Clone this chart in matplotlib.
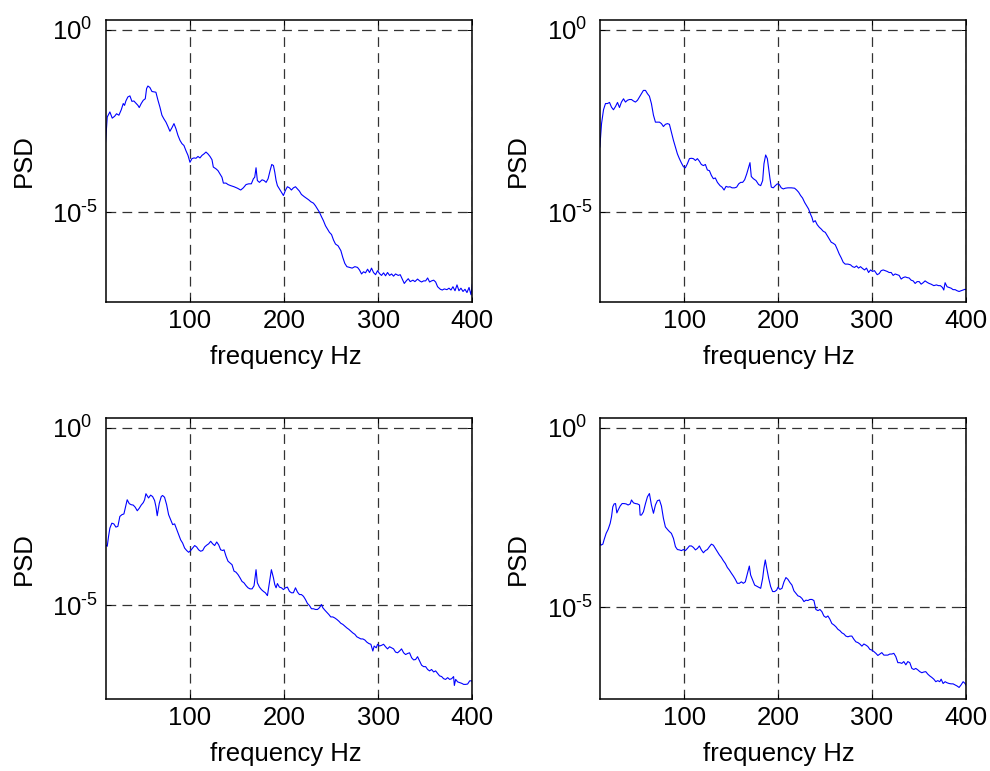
import numpy as np
import matplotlib
matplotlib.use('Agg')
import matplotlib.pyplot as plt
from matplotlib.ticker import FixedLocator, NullLocator, FixedFormatter

plt.rcParams['font.family'] = ['Liberation Sans', 'DejaVu Sans']
plt.rcParams['mathtext.fontset'] = 'custom'
plt.rcParams['mathtext.rm'] = 'Liberation Sans'
plt.rcParams['mathtext.it'] = 'Liberation Sans:italic'
plt.rcParams['lines.scale_dashes'] = False

# ---- data (frequency in Hz, PSD as log10) ----
freq_a = [10.3, 12.1, 14.9, 17.4, 19.9, 22.0, 24.5, 27.0, 29.1, 30.5, 31.9, 34.0, 36.2, 38.3, 40.4,
          42.6, 44.7, 46.1, 48.2, 50.4, 52.5, 53.9, 55.3, 57.4, 59.6, 61.7, 63.8, 66.0, 68.1, 70.2,
          72.3, 74.5, 76.6, 78.7, 80.9, 83.0, 85.1, 87.2, 89.4, 91.5, 93.6, 95.7, 97.9, 100.0,
          102.1, 104.3, 106.4, 108.5, 110.6, 112.8, 114.9, 117.0, 119.1, 121.3, 123.4, 124.8, 127.7,
          129.8, 131.9, 134.0, 135.5, 138.3, 140.4, 143.3, 146.8, 150.4, 153.9, 156.7, 159.6, 162.4,
          165.2, 167.4, 168.8, 170.2, 171.6, 173.8, 176.6, 178.7, 180.9, 183.0, 185.1, 186.9, 188.7,
          190.1, 191.5, 192.9, 195.0, 197.2, 199.3,
          201.4, 203.5, 205.7, 207.8, 209.9, 212.1, 214.2, 216.3, 218.4, 221.3, 224.1, 226.2, 228.4,
          231.2, 233.3, 235.5, 237.6, 239.7, 241.8, 244.0, 246.1, 248.2, 250.4, 252.5, 254.6, 257.4,
          260.3, 262.4, 264.5, 266.7, 269.5, 272.3, 275.2, 278.0, 280.1, 282.3, 284.4, 286.5, 288.7,
          290.8, 292.9, 295.0, 297.2, 299.3,
          301.4, 303.5, 305.7, 307.8, 309.9, 312.1, 314.2, 316.3, 318.4, 321.3, 323.4, 325.5, 327.7,
          329.8, 331.9, 334.0, 336.9, 339.0, 341.8, 344.0, 346.1, 348.2, 350.4, 352.5, 354.6, 356.7,
          358.9, 361.0, 363.1, 366.0, 368.1, 370.2, 373.0, 375.2, 377.3, 379.4, 381.6, 383.7, 385.8,
          387.9, 390.1, 392.2, 394.3, 396.5, 398.6, 400.0]
psd_a = [-3.08, -2.39, -2.25, -2.42, -2.37, -2.30, -2.34, -2.19, -2.02, -2.07, -1.95, -1.84, -1.81, -1.96,
         -1.95, -2.01, -2.07, -2.13, -2.02, -1.93, -1.89, -1.61, -1.54, -1.58, -1.69, -1.70, -1.71, -1.93,
         -2.12, -2.34, -2.44, -2.53, -2.65, -2.78, -2.68, -2.57, -2.71, -2.89, -3.03, -3.12, -3.17, -3.31,
         -3.44, -3.63,
         -3.53, -3.51, -3.52, -3.47, -3.51, -3.44, -3.40, -3.35, -3.40, -3.47, -3.56, -3.76, -3.81, -3.86,
         -3.95, -4.04, -4.20, -4.20, -4.24, -4.27, -4.30, -4.34, -4.39, -4.33, -4.24, -4.22, -4.22, -4.08,
         -4.04, -3.78, -4.13, -4.18, -4.11, -4.13, -4.18, -4.08, -3.86, -3.69, -3.72, -3.90, -4.13, -4.27,
         -4.36, -4.45, -4.54,
         -4.40, -4.30, -4.33, -4.39, -4.33, -4.30, -4.36, -4.42, -4.51, -4.57, -4.62, -4.66, -4.71, -4.75,
         -4.82, -4.91, -5.00, -5.12, -5.23, -5.37, -5.46, -5.55, -5.61, -5.76, -5.87, -5.92, -6.05, -6.24,
         -6.40, -6.49, -6.51, -6.53, -6.49, -6.51, -6.58, -6.69, -6.63, -6.66, -6.56, -6.65, -6.53, -6.65,
         -6.71, -6.60,
         -6.68, -6.73, -6.66, -6.74, -6.65, -6.73, -6.69, -6.75, -6.69, -6.73, -6.71, -6.83, -6.95, -6.88,
         -6.82, -6.90, -6.86, -6.90, -6.83, -6.88, -6.91, -6.88, -6.88, -6.80, -6.91, -6.88, -6.86, -6.91,
         -7.04, -7.11, -7.13, -7.10, -7.12, -7.08, -7.13, -7.04, -7.15, -6.99, -7.15, -7.08, -7.17, -7.11,
         -7.20, -7.06, -7.26, -6.97]

freq_b = [10.3, 12.1, 14.2, 16.3, 18.4, 20.6, 22.7, 24.8, 27.0, 29.1, 31.2, 33.3, 35.5, 37.6, 39.7,
          41.8, 44.0, 46.1, 48.2, 50.4, 52.5, 54.6, 56.7, 58.9, 61.0, 63.1, 65.2, 67.4, 69.5, 71.6,
          73.8, 75.9, 78.0, 80.1, 82.3, 84.4, 86.5, 88.7, 90.8, 92.9, 95.0, 97.2, 99.3,
          101.4, 103.5, 105.7, 107.8, 109.9, 112.1, 114.2, 116.3, 118.4, 120.6, 122.7, 124.8, 127.0,
          129.1, 131.2, 133.3, 135.5, 138.3, 140.4, 142.6, 144.7, 146.8, 148.9, 151.1, 153.9, 156.0,
          158.2, 160.3, 162.4, 164.5, 166.7, 168.8, 170.2, 171.6, 173.8, 176.6, 179.4, 181.6, 183.7,
          185.1, 186.9, 188.7, 190.1, 191.5, 192.9, 195.0, 197.2, 199.3,
          201.4, 203.5, 205.7, 207.8, 210.6, 214.2, 217.7, 219.9, 222.0, 224.1, 226.2, 228.4, 230.5,
          232.6, 234.8, 236.2, 237.6, 239.7, 241.8, 244.0, 246.1, 248.2, 250.4, 252.5, 254.6, 256.7,
          258.9, 261.0, 263.1, 265.2, 267.4, 269.5, 271.6, 274.5, 277.3, 279.4, 281.6, 283.7, 285.8,
          287.9, 290.1, 292.2, 294.3, 296.5, 298.6,
          300.7, 302.8, 305.7, 307.8, 309.9, 312.1, 314.2, 316.3, 318.4, 320.6, 322.7, 324.8, 327.0,
          329.1, 331.2, 333.3, 335.5, 337.6, 339.7, 341.8, 344.0, 346.1, 348.2, 350.4, 352.5, 354.6,
          356.7, 358.9, 361.0, 363.1, 366.0, 368.8, 370.9, 373.0, 375.2, 376.6, 378.0, 380.1, 382.3,
          384.4, 386.5, 388.7, 390.8, 392.9, 395.0, 397.2, 399.3, 400.0]
psd_b = [-3.21, -2.57, -2.19, -2.02, -2.02, -1.99, -2.12, -2.19, -2.10, -1.99, -2.13, -1.98, -1.89, -1.98,
         -1.93, -1.91, -1.91, -1.95, -1.98, -1.93, -1.84, -1.75, -1.66, -1.66, -1.75, -1.82, -2.02, -2.34,
         -2.53, -2.53, -2.53, -2.57, -2.65, -2.59, -2.57, -2.59, -2.80, -3.03, -3.21, -3.40, -3.53, -3.65,
         -3.75,
         -3.78, -3.67, -3.53, -3.52, -3.53, -3.58, -3.53, -3.60, -3.69, -3.72, -3.69, -3.84, -3.86, -3.99,
         -4.08, -4.06, -4.18, -4.27, -4.31, -4.39, -4.29, -4.31, -4.30, -4.33, -4.33, -4.31, -4.22, -4.18,
         -4.18, -4.11, -3.95, -3.76, -3.64, -4.02, -4.08, -4.13, -4.24, -4.27, -4.13, -3.67, -3.43, -3.53,
         -3.81, -4.08, -4.31, -4.33, -4.27, -4.22,
         -4.24, -4.33, -4.36, -4.34, -4.33, -4.33, -4.34, -4.39, -4.45, -4.54, -4.61, -4.73, -4.82, -4.91,
         -5.06, -5.14, -5.27, -5.23, -5.34, -5.41, -5.46, -5.52, -5.55, -5.64, -5.73, -5.82, -5.85, -5.89,
         -6.01, -6.14, -6.25, -6.37, -6.42, -6.42, -6.44, -6.49, -6.51, -6.47, -6.53, -6.49, -6.54, -6.58,
         -6.53, -6.65, -6.58,
         -6.62, -6.60, -6.71, -6.68, -6.60, -6.58, -6.60, -6.62, -6.65, -6.65, -6.73, -6.69, -6.71, -6.73,
         -6.83, -6.79, -6.77, -6.79, -6.80, -6.86, -6.88, -6.95, -6.90, -6.90, -6.97, -6.93, -6.88, -6.92,
         -6.95, -6.97, -7.01, -6.99, -7.01, -7.01, -7.06, -7.13, -6.93, -7.04, -7.06, -7.08, -7.12, -7.12,
         -7.15, -7.17, -7.15, -7.13, -7.11, -7.12]

freq_c = [10.3, 12.1, 13.5, 14.9, 17.0, 19.1, 21.3, 23.4, 25.5, 27.7, 29.8, 31.2, 33.3, 35.5, 37.6,
          39.7, 41.8, 44.0, 46.1, 48.2, 50.4, 51.8, 53.2, 54.6, 56.0, 58.2, 60.3, 62.4, 63.8, 65.2,
          67.4, 69.5, 70.9, 73.0, 75.2, 77.3, 79.4, 81.6, 83.7, 85.8, 87.9, 90.1, 92.2, 94.3, 96.5, 98.6,
          100.7, 102.8, 105.0, 107.1, 109.2, 111.3, 113.5, 115.6, 117.7, 119.9, 122.0, 124.1, 126.2,
          128.4, 130.5, 132.6, 134.8, 136.2, 138.3, 140.4, 142.6, 144.7, 146.8, 148.9, 151.1, 153.2,
          155.3, 157.4, 159.6, 161.7, 163.8, 166.0, 168.1, 170.2, 171.6, 173.8, 175.9, 178.0, 180.1,
          182.3, 184.4, 186.5, 188.7, 190.1, 191.5, 192.9, 195.0, 197.2, 199.3,
          201.4, 203.5, 205.7, 207.8, 209.9, 212.1, 214.2, 216.3, 218.4, 220.6, 222.7, 224.8, 227.0,
          229.1, 231.2, 233.3, 235.5, 237.6, 239.7, 241.1, 243.3, 245.4, 247.5, 249.6, 251.8, 253.9,
          256.0, 258.2, 260.3, 262.4, 264.5, 266.7, 268.8, 270.9, 273.0, 275.2, 277.3, 279.4, 281.6,
          283.7, 285.8, 287.9, 290.1, 292.2, 294.3, 295.7, 297.9, 299.3,
          301.4, 303.5, 305.7, 307.8, 309.9, 312.1, 314.2, 316.3, 318.4, 320.6, 322.7, 324.8, 327.0,
          329.1, 331.2, 333.3, 335.5, 337.6, 339.7, 341.8, 344.0, 346.1, 348.2, 350.4, 352.5, 354.6,
          356.7, 358.9, 361.0, 363.1, 365.2, 367.4, 369.5, 371.6, 373.8, 375.9, 378.0, 380.1, 380.9,
          382.3, 384.4, 386.5, 388.7, 390.8, 392.9, 395.0, 397.2, 399.3, 400.0]
psd_c = [-3.30, -3.34, -3.06, -2.83, -2.69, -2.71, -2.80, -2.78, -2.50, -2.45, -2.43, -2.27, -2.03, -2.14,
         -2.17, -2.18, -2.24, -2.34, -2.27, -2.18, -2.11, -2.03, -1.86, -1.92, -1.98, -1.90, -1.94, -2.05,
         -2.22, -2.48, -2.13, -1.94, -1.91, -1.96, -2.17, -2.45, -2.59, -2.73, -2.71, -2.86, -3.01, -3.16,
         -3.25, -3.39, -3.46, -3.51,
         -3.46, -3.39, -3.32, -3.36, -3.44, -3.48, -3.46, -3.36, -3.31, -3.27, -3.20, -3.27, -3.32, -3.22,
         -3.30, -3.44, -3.46, -3.44, -3.62, -3.76, -3.81, -3.86, -4.04, -4.07, -4.14, -4.23, -4.33, -4.37,
         -4.45, -4.51, -4.54, -4.54, -4.45, -4.00, -4.37, -4.49, -4.56, -4.61, -4.65, -4.73, -4.37, -4.00,
         -4.23, -4.42, -4.51, -4.39, -4.49, -4.51, -4.56,
         -4.51, -4.49, -4.61, -4.65, -4.65, -4.51, -4.63, -4.70, -4.70, -4.75, -4.84, -4.95, -5.01, -5.10,
         -5.10, -5.12, -5.12, -5.07, -4.98, -5.07, -5.14, -5.20, -5.26, -5.33, -5.33, -5.36, -5.40, -5.45,
         -5.51, -5.54, -5.59, -5.64, -5.68, -5.73, -5.78, -5.82, -5.89, -5.92, -5.95, -5.95, -5.98, -6.04,
         -6.08, -6.10, -6.29, -6.15, -6.20, -6.10,
         -6.15, -6.13, -6.10, -6.17, -6.23, -6.17, -6.20, -6.23, -6.32, -6.34, -6.29, -6.23, -6.34, -6.39,
         -6.36, -6.34, -6.48, -6.54, -6.53, -6.45, -6.57, -6.69, -6.73, -6.73, -6.81, -6.85, -6.81, -6.88,
         -6.85, -6.92, -6.99, -7.01, -7.07, -7.09, -7.04, -7.09, -7.07, -7.01, -7.26, -7.09, -7.16, -7.18,
         -7.20, -7.23, -7.23, -7.22, -7.13, -7.13, -7.16]

freq_d = [10.3, 11.3, 13.5, 14.9, 17.0, 19.1, 21.3, 22.7, 24.1, 25.5, 27.0, 28.4, 29.8, 31.9, 34.0,
          36.2, 38.3, 40.4, 42.6, 44.0, 46.1, 48.2, 50.4, 52.5, 53.2, 54.6, 56.7, 58.9, 61.0, 63.1,
          65.2, 67.4, 69.5, 71.6, 73.8, 75.9, 78.0, 80.1, 82.3, 84.4, 86.5, 88.7, 90.8, 92.9, 95.0,
          97.2, 99.3,
          101.4, 103.5, 105.7, 107.8, 109.9, 112.1, 114.2, 116.3, 118.4, 120.6, 122.7, 124.8, 127.0,
          129.1, 131.2, 133.3, 135.5, 137.6, 139.7, 141.8, 144.0, 146.1, 148.2, 150.4, 152.5, 154.6,
          156.7, 158.9, 161.0, 163.1, 165.2, 167.4, 169.5, 170.9, 173.0, 175.2, 177.3, 179.4, 181.6,
          183.7, 185.1, 186.5, 187.9, 190.1, 192.2, 194.3, 196.5, 198.6,
          200.0, 202.1, 204.3, 206.4, 208.5, 210.6, 212.8, 214.9, 217.0, 219.1, 221.3, 223.4, 225.5,
          227.7, 229.8, 231.9, 234.0, 236.2, 238.3, 240.4, 242.6, 244.7, 246.8, 248.9, 251.1, 253.2,
          255.3, 257.4, 259.6, 261.7, 263.8, 266.0, 268.1, 270.2, 272.3, 274.5, 276.6, 278.7, 280.9,
          283.0, 285.1, 287.2, 289.4, 291.5, 293.6, 295.7, 297.9, 300.0,
          302.1, 304.3, 306.4, 308.5, 310.6, 312.8, 314.9, 317.0, 319.1, 321.3, 323.4, 325.5, 327.7,
          329.8, 331.9, 334.0, 336.2, 338.3, 340.4, 342.6, 344.7, 346.8, 348.9, 351.1, 353.2, 355.3,
          357.4, 359.6, 361.7, 363.8, 366.0, 368.1, 370.2, 372.3, 373.8, 375.9, 378.0, 380.1, 382.3,
          384.4, 386.5, 388.7, 390.8, 392.9, 395.0, 397.2, 399.3, 400.0]
psd_d = [-3.13, -3.27, -3.24, -3.11, -2.94, -2.83, -2.66, -2.48, -2.20, -2.12, -2.11, -2.37, -2.29, -2.18,
         -2.11, -2.11, -2.12, -2.15, -2.12, -2.01, -2.09, -2.11, -2.12, -2.15, -2.43, -2.43, -2.34, -2.11,
         -1.92, -1.83, -2.15, -2.38, -2.15, -2.03, -2.01, -2.18, -2.52, -2.76, -2.83, -2.89, -2.94, -3.08,
         -3.31, -3.39, -3.40, -3.42, -3.39,
         -3.42, -3.36, -3.29, -3.29, -3.33, -3.40, -3.36, -3.29, -3.40, -3.48, -3.42, -3.39, -3.31, -3.24,
         -3.27, -3.36, -3.45, -3.54, -3.61, -3.70, -3.78, -3.89, -3.96, -4.05, -4.13, -4.22, -4.33, -4.33,
         -4.29, -4.33, -4.29, -4.07, -3.85, -4.10, -4.24, -4.38, -4.41, -4.44, -4.47, -4.19, -3.89, -3.68,
         -3.89, -4.19, -4.42, -4.56, -4.56, -4.52,
         -4.44, -4.50, -4.47, -4.29, -4.17, -4.22, -4.31, -4.38, -4.54, -4.61, -4.68, -4.70, -4.75, -4.84,
         -4.80, -4.81, -4.78, -4.78, -4.81, -5.06, -5.09, -5.06, -5.12, -5.24, -5.28, -5.24, -5.33, -5.45,
         -5.49, -5.54, -5.61, -5.65, -5.71, -5.74, -5.80, -5.82, -5.80, -5.80, -5.89, -5.96, -5.98, -6.02,
         -6.08, -6.02, -6.05, -6.09, -6.17, -6.19,
         -6.23, -6.28, -6.34, -6.30, -6.26, -6.33, -6.33, -6.33, -6.30, -6.30, -6.28, -6.37, -6.54, -6.54,
         -6.56, -6.51, -6.60, -6.51, -6.54, -6.70, -6.73, -6.70, -6.74, -6.79, -6.82, -6.80, -6.79, -6.86,
         -6.91, -6.95, -7.00, -7.07, -7.04, -7.07, -7.00, -7.12, -7.07, -7.10, -7.12, -7.13, -7.13, -7.16,
         -7.19, -7.23, -7.16, -7.07, -7.12, -7.16]

xticks = [100, 200, 300, 400]
yticks = [1e0, 1e-5]
# old-style log labels: short hyphen in the exponent
ytick_labels = [r'$\mathregular{10^{0}}$', r'$\mathregular{10^{\text{-}5}}$']
xlabel = 'frequency Hz'
ylabel = 'PSD'

panels = [
    (freq_a, psd_a, [0.1068, 0.6087, 0.3703, 0.3654], (-7.45, 0.27)),
    (freq_b, psd_b, [0.6061, 0.6087, 0.3694, 0.3654], (-7.45, 0.27)),
    (freq_c, psd_c, [0.1068, 0.0930, 0.3703, 0.3652], (-7.65, 0.28)),
    (freq_d, psd_d, [0.6061, 0.0930, 0.3694, 0.3652], (-7.56, 0.28)),
]

FS = 18.5
fig = plt.figure(figsize=(9.9, 7.71), dpi=100)

for freq, psd, pos, (ylo, yhi) in panels:
    ax = fig.add_axes(pos)
    ax.plot(freq, 10 ** np.array(psd), color='#0000ff', lw=0.8)
    ax.set_yscale('log')
    ax.set_xlim(10.5, 400)
    ax.set_ylim(10 ** ylo, 10 ** yhi)

    ax.xaxis.set_major_locator(FixedLocator(xticks))
    ax.xaxis.set_minor_locator(NullLocator())
    ax.yaxis.set_major_locator(FixedLocator(yticks))
    ax.yaxis.set_major_formatter(FixedFormatter(ytick_labels))
    ax.yaxis.set_minor_locator(NullLocator())

    ax.grid(True, which='major', color='0.2', linestyle=(0, (7, 4.5)), linewidth=0.9)
    ax.tick_params(which='both', direction='in', top=True, right=True,
                   length=3.5, width=0.7, labelsize=FS)
    ax.tick_params(axis='x', pad=5)
    ax.tick_params(axis='y', pad=38.5)
    for lab in ax.get_yticklabels():
        lab.set_horizontalalignment('left')
    for sp in ax.spines.values():
        sp.set_linewidth(1.1)

    ax.set_xlabel(xlabel, fontsize=FS)
    ax.set_ylabel(ylabel, fontsize=FS)
    ax.xaxis.set_label_coords(0.49, -0.195)
    ax.xaxis.label.set_va('center')
    ax.yaxis.set_label_coords(-0.224, 0.5)
    ax.yaxis.label.set_va('center')

fig.savefig('out.png', dpi=100)
